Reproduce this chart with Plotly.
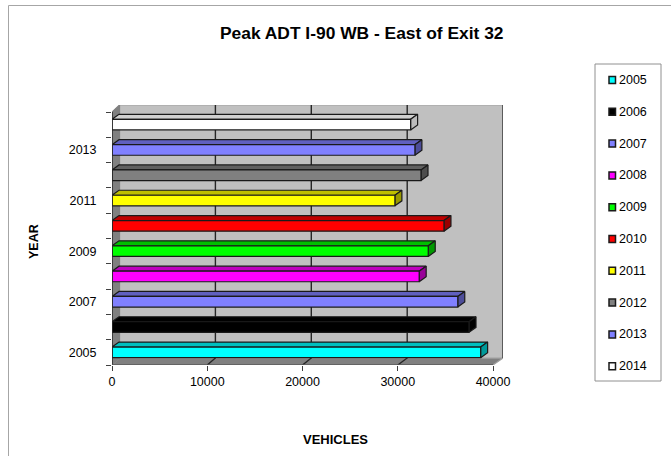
import plotly.graph_objects as go

# peak ADT by year
years = [2005, 2006, 2007, 2008, 2009, 2010, 2011, 2012, 2013, 2014]
vehicles = [38700, 37480, 36300, 32250, 33200, 34850, 29700, 32440, 31800, 31350]
face_colors = ["#00FFFF", "#000000", "#8080FF", "#FF00FF", "#00FF00",
               "#FF0000", "#FFFF00", "#808080", "#8080FF", "#FFFFFF"]
top_colors = ["#00BFBF", "#000000", "#6060BF", "#BF00BF", "#00BF00",
              "#BF0000", "#BFBF00", "#606060", "#6060BF", "#D0D0D0"]
side_colors = ["#009999", "#000000", "#4D4D99", "#990099", "#009900",
               "#990000", "#999900", "#4D4D4D", "#4D4D99", "#BBBBBB"]
x_ticks = [0, 10000, 20000, 30000, 40000]
y_ticks = [2005, 2007, 2009, 2011, 2013]

# plot box in pixels
W, H = 671, 456
L, R, T, B = 112, 503, 105, 365
PX_X = 95.25 / 10000   # px per vehicle
PX_Y = 25.3            # px per year
X_MAX = (R - L) / PX_X
Y_MIN = 2004.5
Y_MAX = Y_MIN + (B - T) / PX_Y

# 3d depth of the wall and of the bars, in data units
WALL_DX = 7.5 / PX_X
WALL_DY = 7 / PX_Y
BAR_DX = 7 / PX_X
BAR_DY = 5 / PX_Y
HALF = 0.21
EDGE = "#1a1a1a"

fig = go.Figure()


def poly(xs, ys, fill, line=EDGE, width=1.2):
    fig.add_trace(go.Scatter(x=xs, y=ys, mode="lines", fill="toself", fillcolor=fill,
                             line=dict(color=line, width=width), hoverinfo="skip",
                             showlegend=False))


back_right = 40000 + 10 / PX_X

# floor
poly([0, 40000, back_right, WALL_DX, 0],
     [Y_MIN, Y_MIN, Y_MIN + WALL_DY, Y_MIN + WALL_DY, Y_MIN], "#808080", "#A0A0A0")
# back wall
poly([WALL_DX, back_right, back_right, WALL_DX, WALL_DX],
     [Y_MIN + WALL_DY, Y_MIN + WALL_DY, Y_MAX, Y_MAX, Y_MIN + WALL_DY], "#C0C0C0", "#A0A0A0")
# right edge of the wall is darker
fig.add_trace(go.Scatter(x=[back_right, back_right], y=[Y_MIN + WALL_DY, Y_MAX], mode="lines",
                         line=dict(color="#404040", width=1.5), hoverinfo="skip", showlegend=False))
# side wall
poly([0, WALL_DX, WALL_DX, 0, 0],
     [Y_MIN, Y_MIN + WALL_DY, Y_MAX, Y_MAX - WALL_DY, Y_MIN], "#808080", "#808080")

# gridlines on wall and floor
for t in x_ticks[1:-1]:
    bx = t * 95.9 / 95.25 + WALL_DX
    fig.add_trace(go.Scatter(x=[t, bx, bx], y=[Y_MIN, Y_MIN + WALL_DY, Y_MAX], mode="lines",
                             line=dict(color="#262626", width=1.4), hoverinfo="skip",
                             showlegend=False))

# bars
for yr, v, fc, tc, sc in zip(years, vehicles, face_colors, top_colors, side_colors):
    lo, hi = yr - HALF, yr + HALF
    poly([0, BAR_DX, v + BAR_DX, v, 0], [hi, hi + BAR_DY, hi + BAR_DY, hi, hi], tc)
    poly([v, v + BAR_DX, v + BAR_DX, v, v], [lo, lo + BAR_DY, hi + BAR_DY, hi, lo], sc)
    poly([0, v, v, 0, 0], [lo, lo, hi, hi, lo], fc)

# front axis lines
fig.add_trace(go.Scatter(x=[0, 0], y=[Y_MIN, Y_MAX - WALL_DY], mode="lines",
                         line=dict(color="#262626", width=1.5), hoverinfo="skip", showlegend=False))
fig.add_trace(go.Scatter(x=[0, 40000], y=[Y_MIN, Y_MIN], mode="lines",
                         line=dict(color="#555555", width=1.5), hoverinfo="skip", showlegend=False))

# second y axis only carries the tick marks between the categories
fig.add_trace(go.Scatter(x=[None], y=[None], yaxis="y2", showlegend=False, hoverinfo="skip"))

fig.update_layout(
    width=W, height=H, margin=dict(l=0, r=0, t=0, b=0, autoexpand=False),
    paper_bgcolor="white", plot_bgcolor="white", showlegend=False,
    font=dict(family="Liberation Sans, Arial", size=12, color="black"),
    xaxis=dict(domain=[L / W, R / W], range=[0, X_MAX], tickvals=x_ticks, tickformat="d",
               showgrid=False, zeroline=False, showline=False, ticks="outside", ticklen=5,
               tickcolor="#404040", tickfont=dict(size=12.5)),
    yaxis=dict(domain=[1 - B / H, 1 - T / H], range=[Y_MIN, Y_MAX], tickvals=y_ticks, tickformat="d",
               showgrid=False, zeroline=False, showline=False, ticks="outside", ticklen=12,
               tickcolor="rgba(0,0,0,0)", tickfont=dict(size=12.5)),
    yaxis2=dict(domain=[1 - B / H, 1 - T / H], range=[Y_MIN, Y_MAX], overlaying="y", anchor="x",
                tickvals=[yr - 0.5 for yr in years] + [years[-1] + 0.5], showticklabels=False,
                showgrid=False, zeroline=False, showline=False, ticks="outside", ticklen=5,
                tickcolor="#404040"),
    annotations=[
        dict(text="<b>Peak ADT I-90 WB - East of Exit 32</b>", x=361 / W, y=1 - 33 / H,
             xref="paper", yref="paper", xanchor="center", yanchor="middle", showarrow=False,
             font=dict(size=17.4)),
        dict(text="<b>VEHICLES</b>", x=335.5 / W, y=1 - 439 / H, xref="paper", yref="paper",
             xanchor="center", yanchor="middle", showarrow=False, font=dict(size=13)),
        dict(text="<b>YEAR</b>", x=34.5 / W, y=1 - 241.5 / H, xref="paper", yref="paper",
             xanchor="center", yanchor="middle", showarrow=False, textangle=-90,
             font=dict(size=12.5)),
    ],
    shapes=[
        # outer chart frame, only top and left fall inside the picture
        dict(type="rect", xref="paper", yref="paper", x0=8.5 / W, x1=680 / W, y0=1 - 470 / H,
             y1=1 - 5.5 / H, line=dict(color="#A6A6A6", width=1)),
        # legend box
        dict(type="rect", xref="paper", yref="paper", x0=595 / W, x1=661 / W, y0=1 - 381 / H,
             y1=1 - 64 / H, line=dict(color="#909090", width=1), fillcolor="white"),
    ],
)

# legend drawn by hand to keep the excel spacing
for i, (yr, fc) in enumerate(zip(years, face_colors)):
    yp = 80 + i * 31.8
    fig.add_shape(type="rect", xref="paper", yref="paper", x0=609 / W, x1=615.5 / W,
                  y0=1 - (yp + 3.5) / H, y1=1 - (yp - 3.5) / H,
                  line=dict(color="#1a1a1a", width=1.5), fillcolor=fc)
    fig.add_annotation(text=str(yr), x=616.5 / W, y=1 - yp / H, xref="paper", yref="paper",
                       xanchor="left", yanchor="middle", showarrow=False, font=dict(size=12.5))

fig.write_html("out.html", post_script="document.body.style.margin='0';",
               config=dict(displayModeBar=False))
